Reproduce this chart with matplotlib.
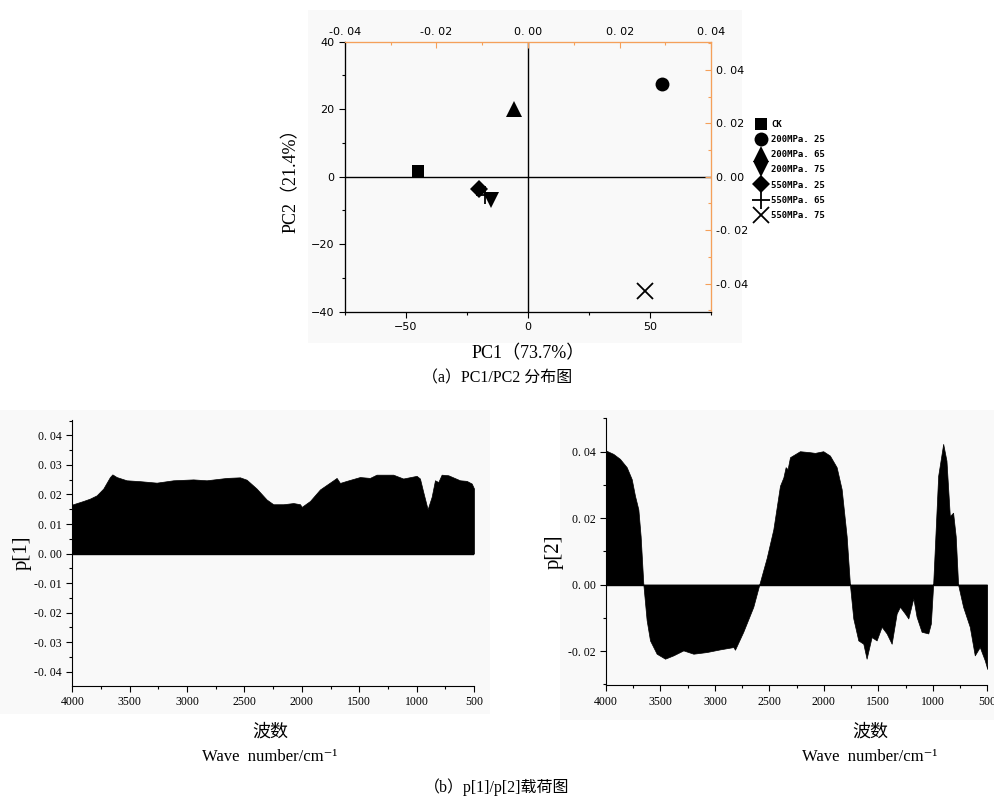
import matplotlib
matplotlib.use("Agg")
import matplotlib.pyplot as plt
from matplotlib.ticker import MultipleLocator, FuncFormatter
from matplotlib.patches import Rectangle
from matplotlib.lines import Line2D

# ---------------- data ----------------
groups = ["CK", "200MPa. 25", "200MPa. 65", "200MPa. 75", "550MPa. 25", "550MPa. 65", "550MPa. 75"]
pc1 = [-45.0, 55.0, -5.8, -15.3, -20.0, -17.5, 47.8]
pc2 = [1.6, 27.6, 20.0, -6.9, -3.6, -5.4, -33.8]
markers = ["s", "o", "^", "v", "D", "+", "x"]
msizes = [9, 10, 11, 11, 9, 13, 12]

wn1 = [4000, 3904, 3846, 3788, 3730, 3672, 3651, 3614, 3527, 3410, 3265, 3120, 2946, 2830,
       2655, 2539, 2481, 2394, 2307, 2249, 2161, 2074, 2016, 2001, 1929, 1842, 1726, 1697,
       1668, 1610, 1494, 1407, 1349, 1204, 1117, 1000, 971, 942, 904, 869, 840, 811, 782,
       724, 622, 564, 520, 500]
p1 = [0.0166, 0.0178, 0.0186, 0.0197, 0.0220, 0.0259, 0.0268, 0.0259, 0.0248, 0.0245,
      0.0240, 0.0248, 0.0251, 0.0248, 0.0256, 0.0258, 0.0250, 0.0220, 0.0183, 0.0167,
      0.0167, 0.0171, 0.0167, 0.0158, 0.0178, 0.0217, 0.0248, 0.0256, 0.0239, 0.0246,
      0.0259, 0.0256, 0.0267, 0.0267, 0.0254, 0.0263, 0.0254, 0.0208, 0.0150, 0.0192,
      0.0248, 0.0242, 0.0267, 0.0265, 0.0248, 0.0246, 0.0237, 0.0220]

wn2 = [4000, 3933, 3872, 3810, 3764, 3734, 3703, 3682, 3657, 3627, 3596, 3535, 3458, 3382,
       3290, 3198, 3076, 2954, 2831, 2816, 2740, 2648, 2593, 2525, 2464, 2403, 2372, 2351,
       2333, 2311, 2220, 2128, 2082, 2006, 1945, 1883, 1837, 1791, 1761, 1730, 1684, 1638,
       1608, 1562, 1516, 1470, 1424, 1378, 1332, 1302, 1256, 1225, 1179, 1149, 1103, 1042,
       1018, 997, 951, 905, 875, 844, 814, 790, 768, 722, 661, 615, 569, 523, 500]
p2 = [0.0403, 0.0393, 0.0378, 0.0353, 0.0317, 0.0267, 0.0226, 0.0145, 0.0, -0.0107,
      -0.0168, -0.0208, -0.0223, -0.0213, -0.0198, -0.0208, -0.0203, -0.0195, -0.0188,
      -0.0196, -0.0142, -0.0067, 0.0, 0.0080, 0.0166, 0.0297, 0.0322, 0.0353, 0.0347,
      0.0383, 0.0401, 0.0398, 0.0396, 0.0401, 0.0388, 0.0353, 0.0287, 0.0145, 0.0,
      -0.0102, -0.0168, -0.0178, -0.0223, -0.0158, -0.0168, -0.0127, -0.0147, -0.0178,
      -0.0087, -0.0067, -0.0087, -0.0102, -0.0041, -0.0097, -0.0142, -0.0147, -0.0117,
      0.0, 0.0327, 0.0423, 0.0373, 0.0206, 0.0216, 0.0145, 0.0, -0.0067, -0.0127,
      -0.0213, -0.0188, -0.0228, -0.0254]

# ---------------- style ----------------
SERIF = ["Liberation Serif", "Noto Sans CJK SC", "DejaVu Sans"]
ORANGE = "#f5a05a"
BG = "#f9f9f9"

def dotfmt(v, pos):
    s = f"{v:.2f}"
    if s == "-0.00":
        s = "0.00"
    return s.replace(".", ". ")

fig = plt.figure(figsize=(9.94, 8.01), dpi=100, facecolor="white")
W, H = 994, 801

def frect(x0, y0, x1, y1):
    fig.patches.append(Rectangle((x0 / W, 1 - y1 / H), (x1 - x0) / W, (y1 - y0) / H,
                                 transform=fig.transFigure, facecolor=BG, edgecolor="none", zorder=-10))

frect(308, 10, 742, 343)
frect(0, 410, 490, 714)
frect(560, 410, 994, 720)

# ---------------- top scatter ----------------
ax = fig.add_axes([344.7 / W, 1 - 311.7 / H, 366.6 / W, 270 / H])
ax.set_facecolor("none")
ax.set_xlim(-75, 75)
ax.set_ylim(-40, 40)
ax.axhline(0, color="black", lw=1.0, zorder=1)
ax.axvline(0, color="black", lw=1.0, zorder=1)
for x, y, m, ms in zip(pc1, pc2, markers, msizes):
    mew = 1.3 if m in ("+", "x") else 0
    ax.plot([x], [y], marker=m, ms=ms, color="black", mew=mew, ls="none", zorder=3)
ax.xaxis.set_major_locator(MultipleLocator(50))
ax.xaxis.set_minor_locator(MultipleLocator(25))
ax.yaxis.set_major_locator(MultipleLocator(20))
ax.yaxis.set_minor_locator(MultipleLocator(10))
ax.tick_params(which="both", direction="out", labelsize=8, length=4, width=0.8)
ax.tick_params(which="minor", length=2.5)
for lab in ax.get_xticklabels() + ax.get_yticklabels():
    lab.set_family("DejaVu Sans")
ax.spines["top"].set_color(ORANGE)
ax.spines["right"].set_color(ORANGE)
ax.set_xlabel("PC1（73.7%）", family=SERIF, fontsize=13, labelpad=9)
ax.set_ylabel("PC2（21.4%）", family=SERIF, fontsize=13, labelpad=8)

axt = ax.twiny()
axt.set_xlim(-0.04, 0.04)
axt.xaxis.set_major_locator(MultipleLocator(0.02))
axt.xaxis.set_minor_locator(MultipleLocator(0.01))
axt.xaxis.set_major_formatter(FuncFormatter(dotfmt))
axt.tick_params(which="both", direction="in", colors=ORANGE, labelcolor="black",
                labelsize=8, length=4, width=0.8)
axt.tick_params(which="minor", length=2.5)
axr = ax.twinx()
axr.set_ylim(-0.0505, 0.0505)
axr.yaxis.set_major_locator(MultipleLocator(0.02))
axr.yaxis.set_minor_locator(MultipleLocator(0.01))
axr.yaxis.set_major_formatter(FuncFormatter(dotfmt))
axr.tick_params(which="both", direction="in", colors=ORANGE, labelcolor="black",
                labelsize=8, length=4, width=0.8)
axr.tick_params(which="minor", length=2.5)
for a in (axt, axr):
    a.spines["top"].set_color(ORANGE)
    a.spines["right"].set_color(ORANGE)
    a.spines["left"].set_color("black")
    a.spines["bottom"].set_color("black")

handles = []
for m, ms in zip(markers, msizes):
    mew = 1.3 if m in ("+", "x") else 0
    handles.append(Line2D([], [], marker=m, color="black", ls="none", ms=ms, mew=mew))
leg = fig.legend(handles, groups, loc="upper left", bbox_to_anchor=(756 / W, 1 - 120 / H),
                 frameon=False, prop={"family": "DejaVu Sans Mono", "weight": "bold", "size": 6.5},
                 handlelength=1.2, handletextpad=0.45, labelspacing=0.68, borderpad=0,
                 borderaxespad=0)

fig.text(497 / W, 1 - 378 / H, "（a）PC1/PC2 分布图", family=SERIF, fontsize=11.5,
         ha="center", va="center")

# ---------------- bottom panels ----------------
def style_bottom(a):
    a.set_facecolor("none")
    a.spines["top"].set_visible(False)
    a.spines["right"].set_visible(False)
    a.set_xlim(4000, 500)
    a.xaxis.set_major_locator(MultipleLocator(500))
    a.xaxis.set_minor_locator(MultipleLocator(250))
    a.yaxis.set_major_formatter(FuncFormatter(dotfmt))
    a.tick_params(which="both", direction="out", labelsize=8.5, length=4, width=0.8)
    a.tick_params(which="minor", length=2.5)
    for lab in a.get_xticklabels() + a.get_yticklabels():
        lab.set_family("Liberation Serif")

ax1 = fig.add_axes([72.3 / W, 1 - 686 / H, (474 - 72.3) / W, 266 / H])
ax1.fill_between(wn1, p1, 0, color="black", lw=0.5, edgecolor="black")
ax1.axhline(0, color="black", lw=1)
ax1.set_ylim(-0.0448, 0.0452)
ax1.yaxis.set_major_locator(MultipleLocator(0.01))
ax1.yaxis.set_minor_locator(MultipleLocator(0.005))
style_bottom(ax1)
ax1.set_ylabel("p[1]", family=SERIF, fontsize=15, labelpad=2)

ax2 = fig.add_axes([606 / W, 1 - 685.3 / H, (987.3 - 606) / W, 267 / H])
ax2.fill_between(wn2, p2, 0, color="black", lw=0.5, edgecolor="black")
ax2.axhline(0, color="black", lw=1)
ax2.set_ylim(-0.0303, 0.0500)
ax2.yaxis.set_major_locator(MultipleLocator(0.02))
ax2.yaxis.set_minor_locator(MultipleLocator(0.01))
style_bottom(ax2)
ax2.set_ylabel("p[2]", family=SERIF, fontsize=15, labelpad=3)

for cx in (270, 870):
    fig.text(cx / W, 1 - 732 / H, "波数", family=["Noto Sans CJK SC"], fontsize=13,
             ha="center", va="center")
    fig.text(cx / W, 1 - 757 / H, "Wave  number/cm⁻¹", family=SERIF, fontsize=12,
             ha="center", va="center")
fig.text(497 / W, 1 - 787 / H, "（b）p[1]/p[2]载荷图", family=SERIF, fontsize=11.5,
         ha="center", va="center")

fig.savefig("out.png", dpi=100, facecolor="white")
